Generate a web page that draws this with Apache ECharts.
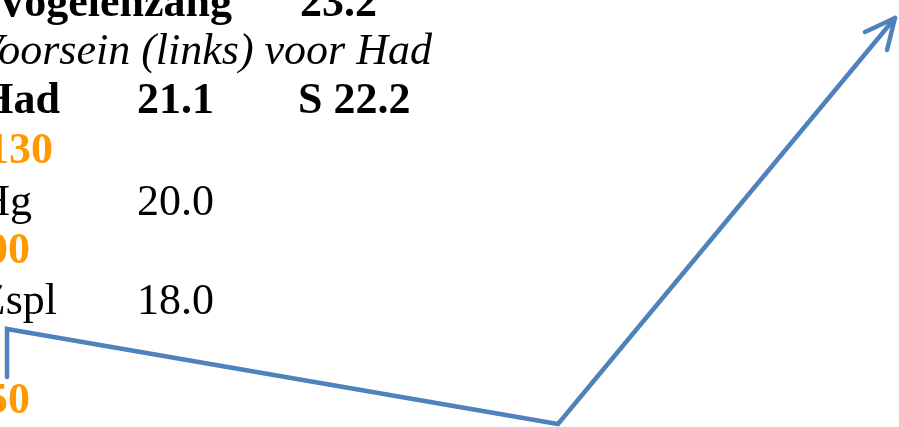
<!DOCTYPE html>
<html><head><meta charset="utf-8">
<script src="https://cdn.jsdelivr.net/npm/echarts@6/dist/echarts.min.js"></script>
<style>html,body{margin:0;padding:0;background:#fff;}#c{width:899px;height:427px;}</style>
</head><body><div id="c"></div>
<script>
// Text rows (as shown in the reference)
const stations = ['Vogelenzang', 'Had', 'Hg', 'Zspl'];
const stationValues = ['23.2', '21.1', '20.0', '18.0'];
const noteText = 'Voorsein (links) voor Had';
const extraText = 'S 22.2';
const orangeNumbers = ['130', '00', '50'];
// Route line (x, y in chart units, y downward)
const routeX = [7, 7, 558, 895];
const routeY = [377, 329, 424, 18];
const arrowX = [865, 895, 887];
const arrowY = [32, 18, 50];

const FONT = '"Liberation Serif", "DejaVu Serif", serif';
const FS = 44;
function txt(text, x, baseline, opts) {
  return {
    type: 'text', x: x, y: baseline, z: 10,
    style: Object.assign({
      text: text, fill: '#000', font: (opts && opts.font) || ('bold ' + FS + 'px ' + FONT),
      textAlign: (opts && opts.align) || 'left', textVerticalAlign: 'bottom'
    }, opts && opts.style)
  };
}
const DESC = 9; // baseline -> bottom offset
const g = [];
g.push(txt(stations[0], 232, 18 + DESC, {align: 'right'}));
g.push(txt(stationValues[0], 300, 18 + DESC));
g.push(txt(noteText, 432, 65 + DESC, {align: 'right', font: 'italic ' + FS + 'px ' + FONT}));
g.push(txt(stations[1], 60, 115 + DESC, {align: 'right'}));
g.push(txt(stationValues[1], 137, 115 + DESC));
g.push(txt(extraText, 298, 115 + DESC));
g.push(txt(orangeNumbers[0], 53, 165 + DESC, {align: 'right', style: {fill: '#FF9900'}}));
g.push(txt(stations[2], 32, 216 + DESC, {align: 'right', font: FS + 'px ' + FONT}));
g.push(txt(stationValues[2], 137, 216 + DESC, {font: FS + 'px ' + FONT}));
g.push(txt(orangeNumbers[1], 30, 265 + DESC, {align: 'right', style: {fill: '#FF9900'}}));
g.push(txt(stations[3], 57, 315 + DESC, {align: 'right', font: FS + 'px ' + FONT}));
g.push(txt(stationValues[3], 137, 315 + DESC, {font: FS + 'px ' + FONT}));
g.push(txt(orangeNumbers[2], 30, 415 + DESC, {align: 'right', style: {fill: '#FF9900'}}));

const chart = echarts.init(document.getElementById('c'), null, {renderer: 'canvas'});
chart.setOption({
  animation: false,
  backgroundColor: '#fff',
  grid: {left: 0, right: 0, top: 0, bottom: 0},
  xAxis: {type: 'value', min: 0, max: 899, show: false},
  yAxis: {type: 'value', min: 0, max: 427, inverse: true, show: false},
  series: [
    {type: 'line', data: routeX.map((x, i) => [x, routeY[i]]), symbol: 'none', clip: false,
     lineStyle: {color: '#4F81BD', width: 4.5, cap: 'round', join: 'miter'}},
    {type: 'line', data: arrowX.map((x, i) => [x, arrowY[i]]), symbol: 'none', clip: false,
     lineStyle: {color: '#4F81BD', width: 4.5, cap: 'round', join: 'round'}}
  ],
  graphic: g
});
</script></body></html>
